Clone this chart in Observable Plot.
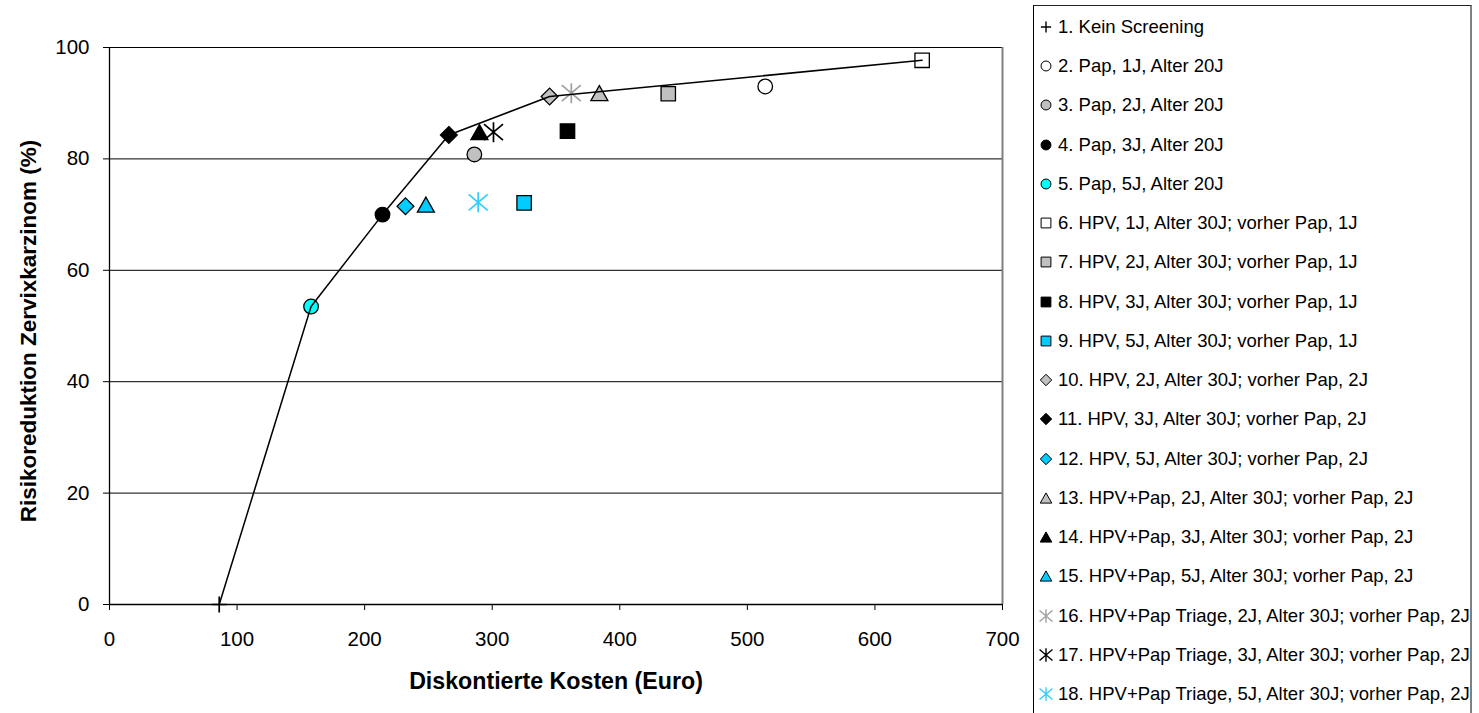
<!DOCTYPE html>
<html>
<head>
<meta charset="utf-8">
<script src="https://cdn.jsdelivr.net/npm/d3@7"></script>
<script src="https://cdn.jsdelivr.net/npm/@observablehq/plot@0.6"></script>
<style>
  body { margin: 0; background: #fff; font-family: "Liberation Sans", Arial, sans-serif; }
  #wrap { position: relative; width: 1479px; height: 713px; overflow: hidden; background: #fff; }
  #chart { position: absolute; left: 0; top: 0; }
  #legend { position: absolute; left: 1033px; top: 5px; width: 439px; height: 730px;
            border-left: 1px solid #000; border-top: 1px solid #222; border-right: 2px solid #808080;
            box-sizing: border-box; }
  .row { position: absolute; left: 2px; height: 24px; display: flex; align-items: center;
         white-space: nowrap; font-size: 18.5px; color: #000; }
  .row svg { flex: none; }
  .row span { margin-left: 2px; }
</style>
</head>
<body>
<div id="wrap"><div id="chart"></div><div id="legend"></div></div>
<script>
// ---- data ----
const labels = [
  "1. Kein Screening",
  "2. Pap, 1J, Alter 20J",
  "3. Pap, 2J, Alter 20J",
  "4. Pap, 3J, Alter 20J",
  "5. Pap, 5J, Alter 20J",
  "6. HPV, 1J, Alter 30J; vorher Pap, 1J",
  "7. HPV, 2J, Alter 30J; vorher Pap, 1J",
  "8. HPV, 3J, Alter 30J; vorher Pap, 1J",
  "9. HPV, 5J, Alter 30J; vorher Pap, 1J",
  "10. HPV, 2J, Alter 30J; vorher Pap, 2J",
  "11. HPV, 3J, Alter 30J; vorher Pap, 2J",
  "12. HPV, 5J, Alter 30J; vorher Pap, 2J",
  "13. HPV+Pap, 2J, Alter 30J; vorher Pap, 2J",
  "14. HPV+Pap, 3J, Alter 30J; vorher Pap, 2J",
  "15. HPV+Pap, 5J, Alter 30J; vorher Pap, 2J",
  "16. HPV+Pap Triage, 2J, Alter 30J; vorher Pap, 2J",
  "17. HPV+Pap Triage, 3J, Alter 30J; vorher Pap, 2J",
  "18. HPV+Pap Triage, 5J, Alter 30J; vorher Pap, 2J"
];
const costs = [86, 514, 286, 214, 158, 637, 438, 359, 325, 345, 266, 232, 384, 290, 248, 362, 301, 289];
const riskReduction = [0, 93.0, 80.8, 70.0, 53.5, 97.7, 91.7, 85.0, 72.1, 91.2, 84.3, 71.5, 91.8, 84.8, 71.8, 91.8, 84.8, 72.2];
const frontier = [1, 5, 4, 11, 10, 6];
const xTicks = [0, 100, 200, 300, 400, 500, 600, 700];
const yTicks = [0, 20, 40, 60, 80, 100];
const yGrid = [20, 40, 60, 80, 100];
const xTitle = "Diskontierte Kosten (Euro)";
const yTitle = "Risikoreduktion Zervixkarzinom (%)";

// ---- styles ----
const shapes = ["plus","circle","circle","circle","circle","square","square","square","square",
                "diamond","diamond","diamond","triangle","triangle","triangle","asterisk","asterisk","asterisk"];
const fills = ["none","#ffffff","#c0c0c0","#000000","#00ffff","#ffffff","#c0c0c0","#000000","#00ccff",
               "#c0c0c0","#000000","#00ccff","#c0c0c0","#000000","#00ccff","none","none","none"];
const strokes = ["#000","#000","#000","#000","#000","#000","#000","#000","#000",
                 "#000","#000","#000","#000","#000","#000","#a0a0a0","#000","#33ccff"];

function makeSymbol(kind, k) {
  return {
    draw(ctx) {
      switch (kind) {
        case "circle": { const r = 7.3 * k; ctx.moveTo(r, 0); ctx.arc(0, 0, r, 0, 2 * Math.PI); ctx.closePath(); break; }
        case "square": { const h = 7.2 * k; ctx.moveTo(-h, -h); ctx.lineTo(h, -h); ctx.lineTo(h, h); ctx.lineTo(-h, h); ctx.closePath(); break; }
        case "diamond": { const d = 8.4 * k; ctx.moveTo(0, -d); ctx.lineTo(d, 0); ctx.lineTo(0, d); ctx.lineTo(-d, 0); ctx.closePath(); break; }
        case "triangle": { const w = 8.5 * k, h = 7.5 * k; ctx.moveTo(0, -h); ctx.lineTo(w, h); ctx.lineTo(-w, h); ctx.closePath(); break; }
        case "plus": { const w = 7.5 * k, h = 8 * k; ctx.moveTo(-w, 0); ctx.lineTo(w, 0); ctx.moveTo(0, -h); ctx.lineTo(0, h); break; }
        case "asterisk": { const r = 10 * k, a = 9.5 * k, b = 8 * k;
          ctx.moveTo(0, -r); ctx.lineTo(0, r);
          ctx.moveTo(-a, -b); ctx.lineTo(a, b);
          ctx.moveTo(-a, b); ctx.lineTo(a, -b); break; }
      }
    }
  };
}
const isLine = s => s === "plus" || s === "asterisk";

const data = labels.map((label, i) => ({ id: i + 1, label, cost: costs[i], risk: riskReduction[i] }));
const frontierData = frontier.map(id => data[id - 1]);

const dotMarks = data.map((d, i) => Plot.dot([d], {
  x: "cost", y: "risk", r: 7,
  symbol: makeSymbol(shapes[i], 1),
  fill: fills[i], stroke: strokes[i],
  strokeWidth: isLine(shapes[i]) ? 1.7 : 1.3
}));

const chart = Plot.plot({
  width: 1030, height: 713,
  marginLeft: 109, marginRight: 28, marginTop: 47, marginBottom: 109,
  style: { fontFamily: "'Liberation Sans', Arial, sans-serif", fontSize: "20.5px", color: "#000", background: "transparent" },
  x: { domain: [0, 700] },
  y: { domain: [0, 100] },
  marks: [
    Plot.ruleY(yGrid, { stroke: "#000", strokeWidth: 1 }),
    Plot.ruleX([700], { stroke: "#808080", strokeWidth: 2 }),
    Plot.ruleY([0], { stroke: "#000", strokeWidth: 1.3 }),
    Plot.ruleX([0], { stroke: "#000", strokeWidth: 1.3 }),
    Plot.axisX(xTicks, { tickSize: 6, tickPadding: 21, label: null, stroke: "#000", fill: "#000" }),
    Plot.axisY(yTicks, { tickSize: 6, tickPadding: 14, label: null, stroke: "#000", fill: "#000" }),
    ...dotMarks,
    Plot.line(frontierData, { x: "cost", y: "risk", stroke: "#000", strokeWidth: 1.5 }),
    Plot.text([xTitle], { text: d => d, frameAnchor: "bottom", dy: 77, fontSize: 23.2, fontWeight: "bold", textAnchor: "middle", lineAnchor: "middle", fill: "#000" }),
    Plot.text([yTitle], { text: d => d, frameAnchor: "left", rotate: -90, dx: -81, dy: 5, fontSize: 22.5, fontWeight: "bold", textAnchor: "middle", lineAnchor: "middle", fill: "#000" })
  ]
});
document.getElementById("chart").appendChild(chart);

// ---- legend ----
const legend = document.getElementById("legend");
labels.forEach((label, i) => {
  const row = document.createElement("div");
  row.className = "row";
  row.style.top = (27 + i * 39.24 - 6 - 12) + "px";
  const svg = d3.create("svg").attr("width", 20).attr("height", 24);
  svg.append("path")
    .attr("transform", "translate(10,12)")
    .attr("d", d3.symbol(makeSymbol(shapes[i], 0.68), 0)())
    .attr("fill", fills[i])
    .attr("stroke", strokes[i])
    .attr("stroke-width", isLine(shapes[i]) ? 1.4 : 1);
  row.appendChild(svg.node());
  const span = document.createElement("span");
  span.textContent = label;
  row.appendChild(span);
  legend.appendChild(row);
});
</script>
</body>
</html>
